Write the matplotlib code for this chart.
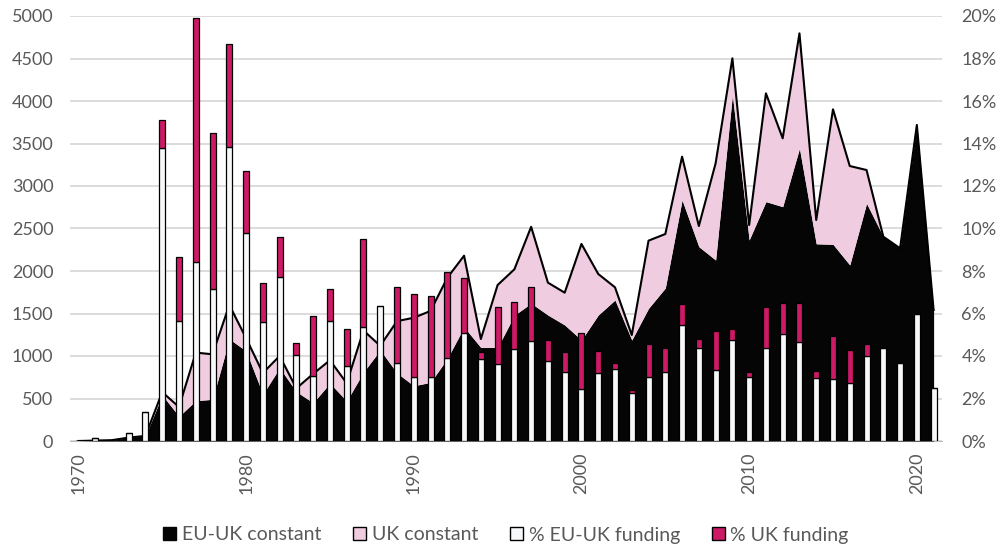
import matplotlib
matplotlib.use("Agg")
import matplotlib.pyplot as plt
from matplotlib.patches import Patch
from matplotlib.ticker import FuncFormatter, MultipleLocator
import numpy as np

years = list(range(1970, 2022))

eu_uk_constant = [0, 5, 10, 40, 60, 540, 290, 475, 490, 1200,
                  1060, 550, 860, 580, 450, 680, 470, 810, 1070, 800,
                  650, 690, 970, 1340, 1100, 1100, 1480, 1620, 1482, 1365,
                  1188, 1482, 1659, 1188, 1561, 1800, 2835, 2286, 2129, 4071,
                  2365, 2816, 2757, 3443, 2320, 2314, 2071, 2796, 2404, 2267,
                  3718, 1541]

uk_constant = [0, 0, 0, 0, 0, 35, 110, 565, 530, 400,
               150, 250, 140, 40, 340, 270, 210, 490, 50, 610,
               800, 840, 950, 840, 100, 735, 540, 900, 381, 380,
               1130, 483, 149, 59, 796, 635, 510, 243, 1138, 431,
               176, 1274, 804, 1353, 280, 1588, 1164, 392, 0, 0,
               0, 0]

pct_eu_uk_funding = [0, 0.15, 0.02, 0.39, 1.38, 13.77, 5.66, 8.44, 7.14, 13.85,
                     9.77, 5.61, 7.70, 4.05, 3.07, 5.66, 3.53, 5.35, 6.35, 3.65,
                     3.00, 3.03, 3.89, 5.10, 3.86, 3.62, 4.31, 4.71, 3.78, 3.23,
                     2.43, 3.18, 3.39, 2.24, 3.00, 3.26, 5.46, 4.36, 3.34, 4.75,
                     3.03, 4.36, 5.02, 4.67, 2.95, 2.92, 2.71, 4.02, 4.39, 3.69,
                     5.98, 2.51]

pct_uk_funding = [0, 0, 0, 0, 0, 1.33, 2.98, 11.45, 7.34, 4.83,
                  2.94, 1.81, 1.92, 0.58, 2.81, 1.48, 1.73, 4.14, 0, 3.58,
                  3.92, 3.79, 4.08, 2.56, 0.34, 2.67, 2.22, 2.55, 0.97, 0.97,
                  2.64, 1.06, 0.26, 0.16, 1.56, 1.13, 0.99, 0.42, 1.84, 0.52,
                  0.23, 1.96, 1.46, 1.81, 0.34, 2.02, 1.57, 0.54, 0, 0,
                  0, 0]

tick_years = [1970, 1980, 1990, 2000, 2010, 2020]

BLACK = "#050505"
PINK = "#EFCCE0"
MAGENTA = "#CC1A66"
WHITE = "#F7F8FA"
TXT = "#595959"
GRID = "#D9D9D9"

plt.rcParams["font.family"] = ["Lato", "DejaVu Sans"]
plt.rcParams["font.size"] = 13

fig = plt.figure(figsize=(10.04, 5.47), dpi=100)
ax = fig.add_axes([70 / 1004, 1 - 441 / 547, (942 - 70) / 1004, (441 - 16) / 547])

x = np.arange(len(years))
black = np.array(eu_uk_constant, dtype=float)
total = black + np.array(uk_constant, dtype=float)

ax.fill_between(x, 0, black, color=BLACK, linewidth=0, zorder=2)
ax.fill_between(x, black, total, color=PINK, linewidth=0, zorder=2)
ax.plot(x, total, color="black", linewidth=1.5, zorder=3)

ax.set_xlim(-0.5, len(years) - 0.5)
ax.set_ylim(0, 5000)
ax.yaxis.set_major_locator(MultipleLocator(500))
ax.grid(axis="y", color=GRID, linewidth=1.3)
ax.set_axisbelow(True)
for s in ["top", "right", "left"]:
    ax.spines[s].set_visible(False)
ax.spines["bottom"].set_color("#BFBFBF")
ax.spines["bottom"].set_zorder(1)
ax.set_xticks([years.index(t) for t in tick_years])
ax.set_xticklabels([str(t) for t in tick_years], rotation=90)
ax.tick_params(axis="x", length=0, pad=8, colors=TXT, labelsize=13)
ax.tick_params(axis="y", length=0, pad=12, colors=TXT, labelsize=13)

ax2 = ax.twinx()
ax2.set_ylim(0, 20)
ax2.yaxis.set_major_locator(MultipleLocator(2))
ax2.yaxis.set_major_formatter(FuncFormatter(lambda v, p: f"{v:.0f}%"))
ax2.tick_params(axis="y", length=0, pad=14, colors=TXT, labelsize=13)
for s in ax2.spines.values():
    s.set_visible(False)

w = 0.36
ax2.bar(x, pct_eu_uk_funding, width=w, color=WHITE, edgecolor="black", linewidth=0.9, zorder=3)
ax2.bar(x, pct_uk_funding, width=w, bottom=pct_eu_uk_funding, color=MAGENTA,
        edgecolor="black", linewidth=0.9, zorder=3)

handles = [
    Patch(facecolor=BLACK, edgecolor=BLACK, label="EU-UK constant"),
    Patch(facecolor=PINK, edgecolor="black", label="UK constant"),
    Patch(facecolor=WHITE, edgecolor="black", label="% EU-UK funding"),
    Patch(facecolor=MAGENTA, edgecolor="black", label="% UK funding"),
]
leg = fig.legend(handles=handles, loc="center", bbox_to_anchor=(506 / 1004, 1 - 535 / 547), ncol=4,
                 frameon=False, handlelength=0.67, handleheight=0.67, handletextpad=0.28,
                 columnspacing=1.65, fontsize=14, borderaxespad=0, borderpad=0)
for t in leg.get_texts():
    t.set_color(TXT)

fig.savefig("out.png", dpi=100)
